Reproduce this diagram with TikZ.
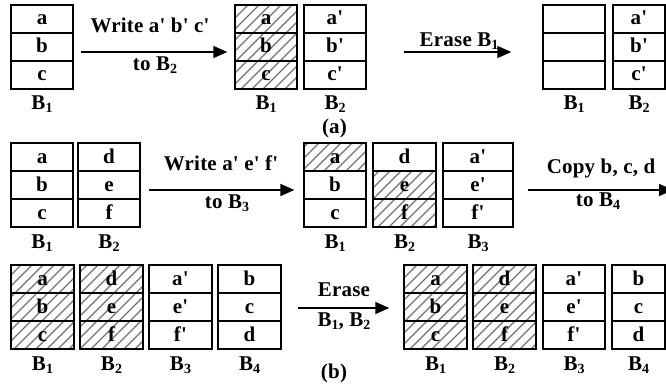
\documentclass[tikz,border=0pt]{standalone}
\usepackage{fontspec}
\newfontfamily\tf[LetterSpace=1]{Liberation Serif}
\usetikzlibrary{arrows.meta,calc,backgrounds}
\newcommand\Bsub[1]{B\raisebox{-3pt}{\fontsize{14}{14}\selectfont #1}}
\newcommand\blk[6]{%
  \foreach \t [count=\i] in {#6} {
    \node[cellbox=#4pt] (#1-\i) at ({#2+#4/2},{#3+28*\i-14}) {\t};
  }
  \node[lbl] (#1-l) at ({#2+#4/2},{#3+84+21}) {#5};
}
\begin{document}
\begin{tikzpicture}[x=1pt,y=-1pt,
  every node/.style={font=\tf\bfseries\fontsize{21}{23}\selectfont, inner sep=0pt},
  cellbox/.style={draw, line width=1.4pt, minimum height=28pt, minimum width=#1,
    text height=14pt, text depth=2pt},
  hatchline/.style={black!55, line width=1.3pt},
  arr/.style={-{Triangle[length=14pt,width=12pt]}, line width=1.5pt},
  lbl/.style={anchor=base},
]
\useasboundingbox (0,0) rectangle (666,385);
\clip (0,0) rectangle (666,385);

% row (a)
\blk{A1}{11}{5}{62}{\Bsub1}{a,b,c}
\blk{A2}{235}{5}{62}{\Bsub1}{a,b,c}
\blk{A3}{304}{5}{62}{\Bsub2}{a',b',c'}
\blk{A4}{543}{5}{62}{\Bsub1}{{},{},{}}
\blk{A5}{613}{5}{52}{\Bsub2}{a',b',c'}

% row (b) first line
\blk{B1}{11}{143}{62}{\Bsub1}{a,b,c}
\blk{B2}{78}{143}{62}{\Bsub2}{d,e,f}
\blk{B3}{304}{143}{62}{\Bsub1}{a,b,c}
\blk{B4}{373}{143}{63}{\Bsub2}{d,e,f}
\blk{B5}{443}{143}{70}{\Bsub3}{a',e',f'}

% row (b) second line
\blk{C1}{11}{265}{63}{\Bsub1}{a,b,c}
\blk{C2}{80}{265}{63}{\Bsub2}{d,e,f}
\blk{C3}{149}{265}{63}{\Bsub3}{a',e',f'}
\blk{C4}{218}{265}{63}{\Bsub4}{b,c,d}
\blk{C5}{404}{265}{63}{\Bsub1}{a,b,c}
\blk{C6}{473}{265}{63}{\Bsub2}{d,e,f}
\blk{C7}{543}{265}{62}{\Bsub3}{a',e',f'}
\blk{C8}{612}{265}{53}{\Bsub4}{b,c,d}

% hatching
\begin{scope}[on background layer]
  \fill[white] (0,0) rectangle (666,385);
  \clip (A2-1.north west) rectangle (A2-3.south east)
        (B3-1.north west) rectangle (B3-1.south east)
        (B4-2.north west) rectangle (B4-3.south east)
        (C1-1.north west) rectangle (C1-3.south east)
        (C2-1.north west) rectangle (C2-3.south east)
        (C5-1.north west) rectangle (C5-3.south east)
        (C6-1.north west) rectangle (C6-3.south east);
  \foreach \c in {0,11,...,1100} \draw[hatchline] (\c,0) -- (\c-400,400);
\end{scope}

% arrows
\coordinate (copyend) at (673,190);
\draw[arr] ($(A1-2.east)+(7,5)$) -- ($(A2-2.west)+(-7,5)$);
\draw[arr] ($(A3-2.east)+(37,5)$) -- ($(A4-2.west)+(-31,5)$);
\draw[arr] ($(B2-2.east)+(8,5)$) -- ($(B3-2.west)+(-9,5)$);
\draw[arr] ($(B5-2.east)+(14,5)$) -- (copyend);
\draw[arr] ($(C4-2.east)+(16,1)$) -- ($(C5-2.west)+(-14,1)$);

% arrow texts
\node[lbl] (t1) at (150,33) {Write a' b' c'};
\node[lbl] (t2) at (155,71) {to \Bsub2};
\node[lbl] (t3) at (459,47) {Erase \Bsub1};
\node[lbl] (t4) at (221,170) {Write a' e' f'};
\node[lbl] (t5) at (227,208) {to \Bsub3};
\node[lbl] (t6) at (601,173) {Copy b, c, d};
\node[lbl] (t7) at (598,206) {to \Bsub4};
\node[lbl] (t8) at (344,296) {Erase};
\node[lbl] (t9) at (344,326) {\Bsub1, \Bsub2};
\node[lbl] (la) at (334.5,134) {(a)};
\node[lbl] (lb) at (334,378) {(b)};
\end{tikzpicture}
\end{document}
